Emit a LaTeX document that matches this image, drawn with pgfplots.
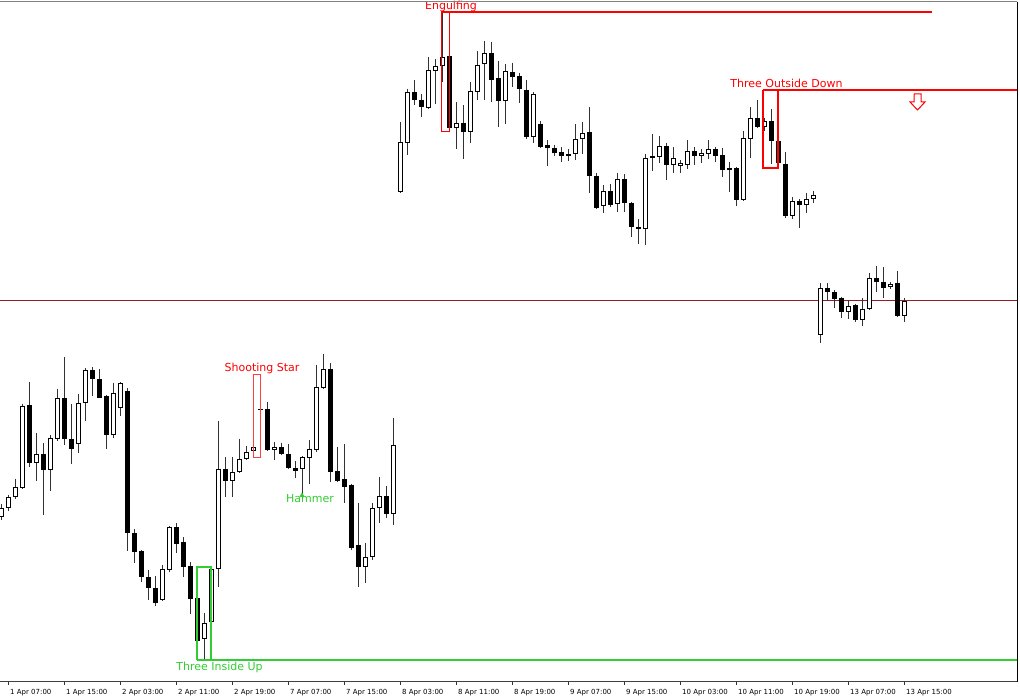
\documentclass[border=0pt]{standalone}
\usepackage{pgfplots}
\pgfplotsset{compat=1.18}
\usepackage{pgfplotstable}
\usepackage{fontspec}
\setmainfont{DejaVu Sans}
\definecolor{mtred}{RGB}{255,0,0}
\definecolor{mtgreen}{RGB}{50,205,50}
\definecolor{hline}{RGB}{150,30,35}
\definecolor{wick}{RGB}{50,50,50}

% candle index k, open, high, low, close (vertical chart units, larger = lower)
\pgfplotstableread{
k O H L C
0 517 504 520 508
1 508 495 511 497
2 497 479 499 487
3 488 404 489 406
4 405 382 467 463
5 463 433 481 454
6 454 443 515 470
7 470 435 491 438
8 439 389 441 398
9 398 357 445 439
10 439 404 464 449
11 444 394 453 403
12 403 368 421 370
13 370 367 396 379
14 379 369 398 398
15 396 395 449 435
16 435 383 438 393
17 408 382 416 383
18 391 388 551 533
19 533 529 563 552
20 551 550 582 577
21 577 570 600 588
22 588 576 606 603
23 600 565 601 569
24 570 526 572 527
25 527 523 553 544
26 542 537 577 567
27 566 562 614 599
28 598 598 660 641
29 639 613 660 623
30 622 567 630 569
31 569 421 587 469
32 469 457 497 481
33 481 457 497 472
34 472 439 473 459
35 459 446 460 452
36 451 442 457 447
37 409 375 430 410
38 409 402 451 450
39 450 442 460 447
40 447 443 455 454
41 454 444 469 468
42 468 461 478 471
43 469 456 494 457
44 458 440 484 449
45 450 365 452 387
46 388 354 389 369
47 369 363 482 472
48 471 447 482 481
49 479 444 503 487
50 485 484 550 548
51 545 503 587 567
52 567 543 583 557
53 557 503 560 508
54 508 477 523 496
55 496 486 518 514
56 514 418 525 445
57 192 122 193 142
58 143 89 155 92
59 92 80 105 100
60 100 94 117 107
61 108 57 109 70
62 71 59 104 66
63 66 12 82 57
64 56 50 129 128
65 128 102 149 123
66 123 105 159 132
67 132 82 143 91
68 92 51 100 65
69 64 41 100 53
70 53 42 102 80
71 78 61 127 101
72 101 64 124 71
73 72 63 87 77
74 76 73 103 89
75 90 80 139 137
76 137 92 143 94
77 124 121 148 147
78 145 140 166 148
79 148 145 156 153
80 152 147 162 156
81 156 149 161 154
82 154 124 160 139
83 139 122 154 133
84 132 107 193 176
85 176 173 209 208
86 206 185 213 191
87 191 184 207 205
88 204 173 212 179
89 179 174 212 203
90 203 202 237 227
91 227 219 244 229
92 229 154 245 158
93 158 134 171 156
94 157 136 163 146
95 146 143 180 165
96 165 147 173 158
97 166 160 173 163
98 165 140 169 151
99 151 147 165 156
100 156 149 163 153
101 154 140 159 149
102 149 147 162 156
103 155 148 177 170
104 168 162 192 170
105 168 167 206 200
106 200 131 201 138
107 139 107 158 118
108 118 100 128 127
109 127 118 131 121
110 121 109 164 141
111 141 118 167 163
112 164 152 218 216
113 216 197 219 201
114 201 199 228 205
115 205 193 213 199
116 199 191 203 195
117 335 283 343 288
118 288 283 301 292
119 292 290 308 299
120 298 297 318 312
121 312 300 319 306
122 305 304 322 320
123 320 298 326 309
124 309 273 310 278
125 278 266 292 282
126 282 267 298 288
127 287 282 289 284
128 283 271 317 316
129 316 298 322 301
}\candles

\begin{document}
\begin{tikzpicture}
\useasboundingbox (0,0) rectangle (1020pt,700pt);
\begin{axis}[
  at={(0pt,18pt)}, anchor=south west,
  width=1017.3pt, height=680.3pt, scale only axis,
  xmin=0, xmax=1017.3, ymin=-682, ymax=-1.7,
  axis line style={draw=none},
  clip=false,
  ytick=\empty,
  xtick={8,64,...,904},
  xticklabels={1 Apr 07:00,1 Apr 15:00,2 Apr 03:00,2 Apr 11:00,2 Apr 19:00,7 Apr 07:00,7 Apr 15:00,8 Apr 03:00,8 Apr 11:00,8 Apr 19:00,9 Apr 07:00,9 Apr 15:00,10 Apr 03:00,10 Apr 11:00,10 Apr 19:00,13 Apr 07:00,13 Apr 15:00},
  xtick pos=bottom, tick align=outside, major tick length=3pt,
  tick style={black!80, line width=0.8pt},
  xticklabel style={font=\fontsize{7}{8}\selectfont, anchor=west, xshift=-1.3pt, yshift=-8pt},
]
% horizontal level line
\addplot[hline, line width=1pt] coordinates {(0,-301) (1017.3,-301)};

% wicks
\addplot[draw=none, mark=none,
  error bars/.cd, y dir=minus, y explicit, error mark=none,
  error bar style={draw=wick, line width=1pt}]
  table[x expr=1+7*\thisrow{k}, y expr=-\thisrow{H}, y error minus expr=\thisrow{L}-\thisrow{H}] {\candles};

% bearish bodies
\addplot[draw=none, mark=none,
  error bars/.cd, y dir=minus, y explicit, error mark=none,
  error bar style={draw=black, line width=5pt}]
  table[x expr=1+7*\thisrow{k},
        y expr={(\thisrow{C}>\thisrow{O}) ? -\thisrow{O} : nan},
        y error minus expr={max(\thisrow{C}-\thisrow{O},1)}] {\candles};

% bullish bodies: outline
\addplot[draw=none, mark=none,
  error bars/.cd, y dir=minus, y explicit, error mark=none,
  error bar style={draw=black, line width=5pt}]
  table[x expr=1+7*\thisrow{k},
        y expr={(\thisrow{C}<\thisrow{O}) ? -\thisrow{C} : nan},
        y error minus expr={\thisrow{O}-\thisrow{C}}] {\candles};
% bullish bodies: white inside
\addplot[draw=none, mark=none,
  error bars/.cd, y dir=minus, y explicit, error mark=none,
  error bar style={draw=white, line width=3pt}]
  table[x expr=1+7*\thisrow{k},
        y expr={(\thisrow{C}<\thisrow{O}) ? -\thisrow{C}-1 : nan},
        y error minus expr={max(\thisrow{O}-\thisrow{C}-2,0)}] {\candles};

% Engulfing
\addplot[mtred, line width=1pt] coordinates {(441,-12) (441,-132) (449,-132) (449,-12)};
\addplot[mtred, line width=1.6pt] coordinates {(441,-12) (931.5,-12)};
% Three Outside Down
\addplot[mtred, line width=1.6pt] coordinates {(763,-90) (763,-168) (778,-168) (778,-90)};
\addplot[mtred, line width=1.6pt] coordinates {(763,-90) (1017.3,-90)};
\addplot[mtred, line width=1pt] coordinates {(914,-94) (921,-94) (921,-102) (925,-102) (917.5,-110) (910,-102) (914,-102) (914,-94)};
% Three Inside Up
\addplot[mtgreen, line width=1.6pt] coordinates {(197,-660) (197,-567) (211,-567) (211,-660)};
\addplot[mtgreen, line width=1.6pt] coordinates {(197,-660) (1017.3,-660)};
% Shooting Star
\addplot[mtred!75, line width=1pt] coordinates {(253,-375) (253,-458) (260.7,-458) (260.7,-375) (253,-375)};
% Hammer marker
\addplot[only marks, mark=triangle*, mark size=2.6pt, color=mtgreen] coordinates {(302,-495.5)};

\node[anchor=base, text=mtred, font=\fontsize{11}{13}\selectfont, inner sep=0pt] at (axis cs:451,-10) {Engulfing};
\node[anchor=base, text=mtred, font=\fontsize{11}{13}\selectfont, inner sep=0pt] at (axis cs:786.5,-88) {Three Outside Down};
\node[anchor=base, text=mtred, font=\fontsize{11}{13}\selectfont, inner sep=0pt] at (axis cs:262,-372) {Shooting Star};
\node[anchor=base, text=mtgreen, font=\fontsize{11}{13}\selectfont, inner sep=0pt] at (axis cs:310,-503) {Hammer};
\node[anchor=base, text=mtgreen, font=\fontsize{11}{13}\selectfont, inner sep=0pt] at (axis cs:219.5,-671) {Three Inside Up};
\end{axis}
% chart frame
\draw[gray, line width=1pt] (0pt,698.3pt) -- (1017.3pt,698.3pt);
\draw[black, line width=1pt] (1017.3pt,698.3pt) -- (1017.3pt,18pt);
\draw[black!75, line width=1pt] (0pt,18pt) -- (1017.3pt,18pt);
\end{tikzpicture}
\end{document}
